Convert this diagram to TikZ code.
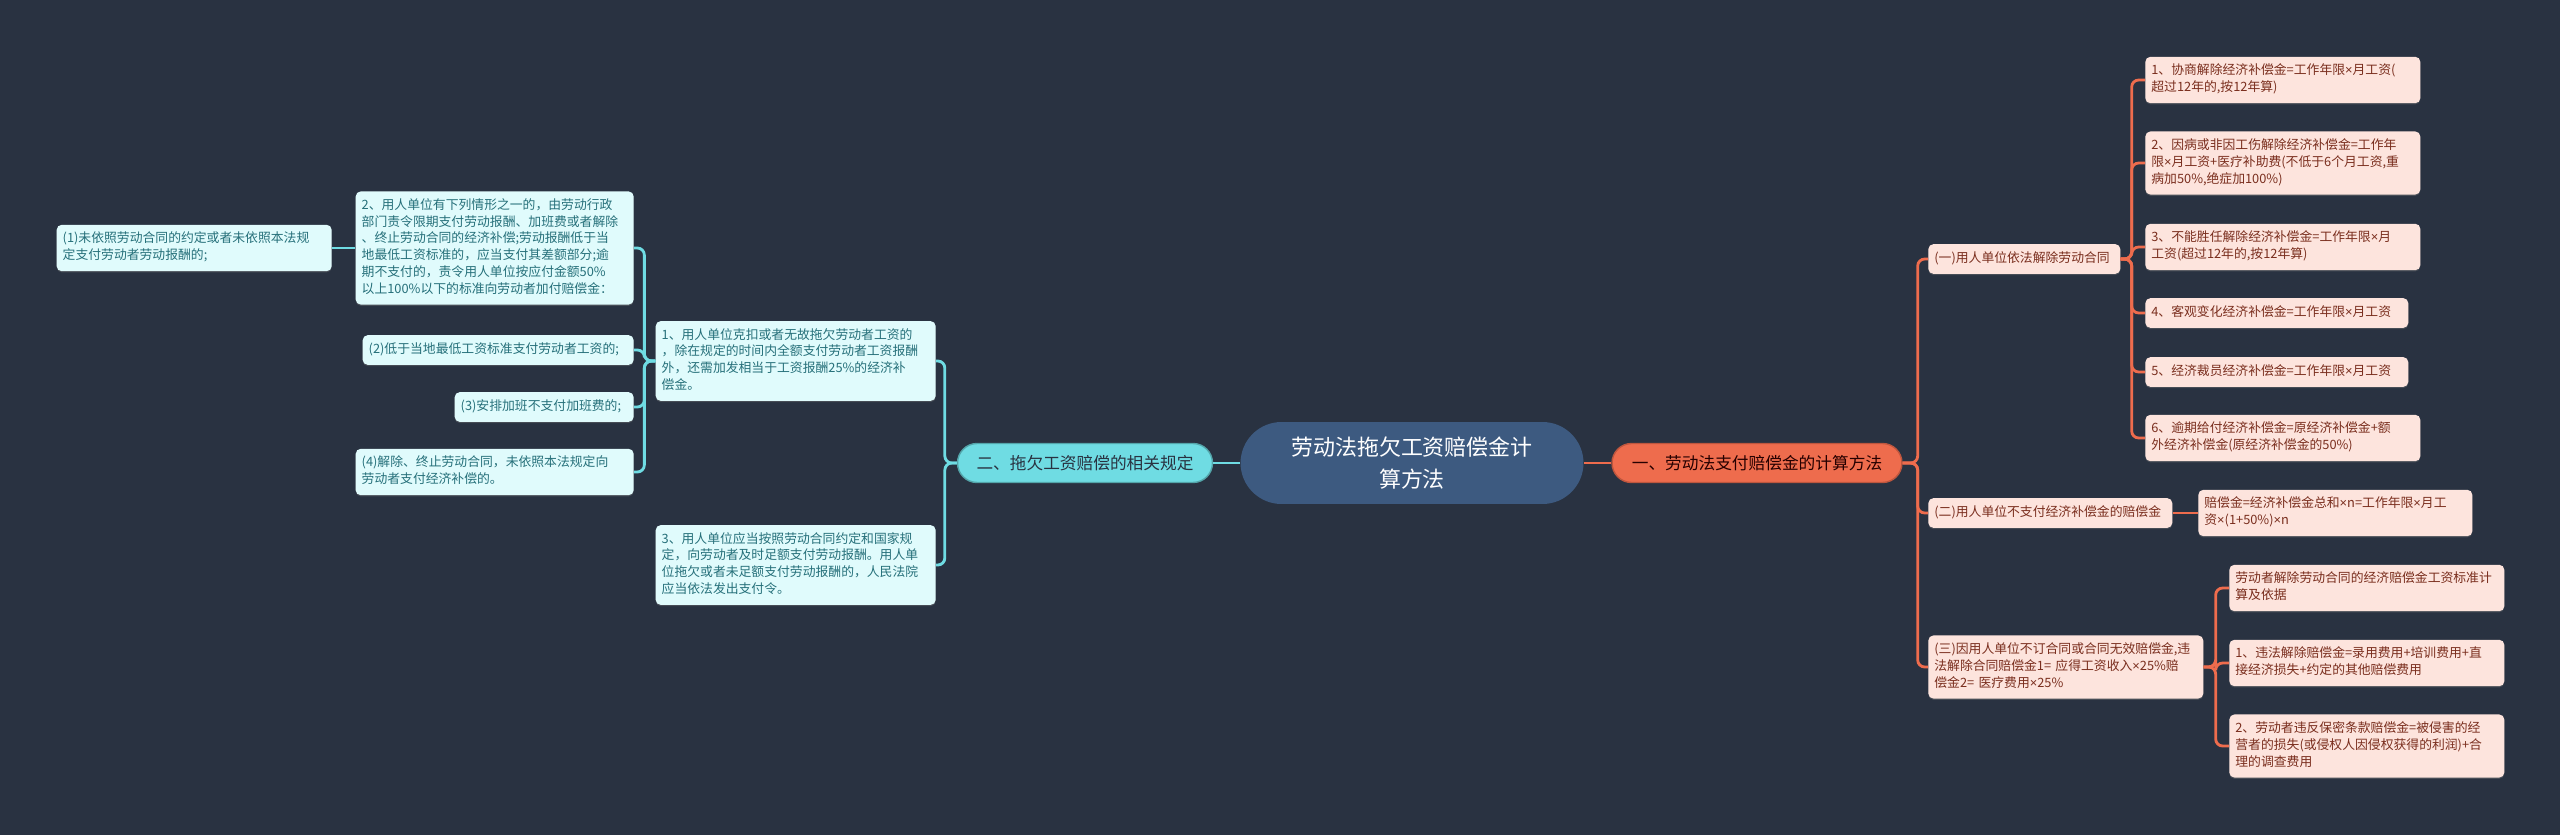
\documentclass[tikz,border=0pt]{standalone}
\usepackage{fontspec}
\setmainfont{Noto Sans CJK SC}
\newfontfamily\timesfont{Liberation Sans}
\newcommand\mul{{\timesfont ×}}
\usetikzlibrary{shadows}

\begin{document}
\begin{tikzpicture}[x=0.02cm, y=-0.02cm,
    rootbox/.style={fill=rootColour, text=white, rounded corners=0.82cm,
        minimum width=6.86cm, minimum height=1.64cm, align=center,
        font=\fontsize{12.5}{18.7}\selectfont},
    mainbox/.style={rounded corners=0.39cm, minimum height=0.78cm,
        line width=0.8pt, font=\fontsize{9.5}{11}\selectfont},
    leafbox/.style={rounded corners=0.1cm, inner xsep=0.12cm, inner ysep=0.13cm,
        align=left, font=\fontsize{7.3}{9.5}\selectfont,
        execute at begin node=\strut, execute at end node=\strut,
        drop shadow={opacity=0.35, shadow xshift=0pt, shadow yshift=-0.7pt}},
    rleaf/.style={leafbox, fill=redLeaf, text=redText, anchor=west},
    lleaf/.style={leafbox, fill=cyanLeaf, text=cyanText, anchor=east},
    redline/.style={draw=redLine, line width=1.6pt, rounded corners=0.14cm},
    cyanline/.style={draw=cyanLine, line width=1.6pt, rounded corners=0.14cm}]

    \definecolor{bgColour}{HTML}{293241}
    \definecolor{rootColour}{HTML}{3D5A80}
    \definecolor{redLine}{HTML}{EE6C4D}
    \definecolor{redLeaf}{HTML}{FDE4DD}
    \definecolor{redText}{HTML}{7A2E1E}
    \definecolor{cyanLine}{HTML}{6FDCE3}
    \definecolor{cyanLeaf}{HTML}{E0FBFC}
    \definecolor{cyanText}{HTML}{26707A}

    % Background
    \fill[bgColour] (0,0) rectangle (2560,835);
    \useasboundingbox (0,0) rectangle (2560,835);

    % Root and main branches
    \node[rootbox] (root) at (1412,463) {劳动法拖欠工资赔偿金计\\算方法};
    \node[mainbox, fill=redLine, draw=redLine!80!black, text=black!85!red,
        minimum width=5.8cm] (one) at (1757,463) {一、劳动法支付赔偿金的计算方法};
    \node[mainbox, fill=cyanLine, draw=cyanLine!75!black, text=bgColour,
        minimum width=5.1cm] (two) at (1085,463) {二、拖欠工资赔偿的相关规定};

    % Right side: one
    \node[rleaf, text width=3.60cm] (r1) at (1928,259) {(一)用人单位依法解除劳动合同};
    \node[rleaf, text width=5.26cm] (r11) at (2145,80) {1、协商解除经济补偿金=工作年限\mul 月工资(\\超过12年的,按12年算)};
    \node[rleaf, text width=5.26cm] (r12) at (2145,163) {2、因病或非因工伤解除经济补偿金=工作年\\限\mul 月工资+医疗补助费(不低于6个月工资,重\\病加50\%,绝症加100\%)};
    \node[rleaf, text width=5.26cm] (r13) at (2145,247) {3、不能胜任解除经济补偿金=工作年限\mul 月\\工资(超过12年的,按12年算)};
    \node[rleaf, text width=5.02cm] (r14) at (2145,313) {4、客观变化经济补偿金=工作年限\mul 月工资};
    \node[rleaf, text width=5.02cm] (r15) at (2145,372) {5、经济裁员经济补偿金=工作年限\mul 月工资};
    \node[rleaf, text width=5.26cm] (r16) at (2145,438) {6、逾期给付经济补偿金=原经济补偿金+额\\外经济补偿金(原经济补偿金的50\%)};

    \node[rleaf, text width=4.64cm] (r2) at (1928,513) {(二)用人单位不支付经济补偿金的赔偿金};
    \node[rleaf, text width=5.24cm] (r21) at (2198,513) {赔偿金=经济补偿金总和\mul n=工作年限\mul 月工\\资\mul(1+50\%)\mul n};

    \node[rleaf, text width=5.26cm] (r3) at (1928,667) {(三)因用人单位不订合同或合同无效赔偿金,违\\法解除合同赔偿金1= 应得工资收入\mul 25\%赔\\偿金2= 医疗费用\mul 25\%};
    \node[rleaf, text width=5.26cm] (r31) at (2229,588) {劳动者解除劳动合同的经济赔偿金工资标准计\\算及依据};
    \node[rleaf, text width=5.26cm] (r32) at (2229,663) {1、违法解除赔偿金=录用费用+培训费用+直\\接经济损失+约定的其他赔偿费用};
    \node[rleaf, text width=5.26cm] (r33) at (2229,746) {2、劳动者违反保密条款赔偿金=被侵害的经\\营者的损失(或侵权人因侵权获得的利润)+合\\理的调查费用};

    % Left side: two
    \node[lleaf, text width=5.36cm] (l1) at (936,361) {1、用人单位克扣或者无故拖欠劳动者工资的\\，除在规定的时间内全额支付劳动者工资报酬\\外，还需加发相当于工资报酬25\%的经济补\\偿金。};
    \node[lleaf, text width=5.36cm] (l2) at (936,565) {3、用人单位应当按照劳动合同约定和国家规\\定，向劳动者及时足额支付劳动报酬。用人单\\位拖欠或者未足额支付劳动报酬的，人民法院\\应当依法发出支付令。};

    \node[lleaf, text width=5.32cm] (l11) at (634,248) {2、用人单位有下列情形之一的，由劳动行政\\部门责令限期支付劳动报酬、加班费或者解除\\、终止劳动合同的经济补偿;劳动报酬低于当\\地最低工资标准的，应当支付其差额部分;逾\\期不支付的，责令用人单位按应付金额50\%\\以上100\%以下的标准向劳动者加付赔偿金：};
    \node[lleaf, text width=5.26cm] (l111) at (332,248) {(1)未依照劳动合同的约定或者未依照本法规\\定支付劳动者劳动报酬的;};
    \node[lleaf, text width=5.18cm] (l12) at (634,350) {(2)低于当地最低工资标准支付劳动者工资的;};
    \node[lleaf, text width=3.34cm] (l13) at (634,407) {(3)安排加班不支付加班费的;};
    \node[lleaf, text width=5.32cm] (l14) at (634,472) {(4)解除、终止劳动合同，未依照本法规定向\\劳动者支付经济补偿的。};

    % Connectors, right
    \draw[redline] (root.east) -- (one.west);
    \foreach \c in {r1,r2,r3}
        \draw[redline] (one.east) -- ++(15,0) |- (\c.west);
    \foreach \c in {r11,r12,r13,r14,r15,r16}
        \draw[redline] (r1.east) -- ++(11,0) |- (\c.west);
    \draw[redline] (r2.east) -- (r21.west);
    \foreach \c in {r31,r32,r33}
        \draw[redline] (r3.east) -- ++(12,0) |- (\c.west);

    % Connectors, left
    \draw[cyanline] (root.west) -- (two.east);
    \foreach \c in {l1,l2}
        \draw[cyanline] (two.west) -- ++(-12,0) |- (\c.east);
    \foreach \c in {l11,l12,l13,l14}
        \draw[cyanline] (l1.west) -- ++(-11,0) |- (\c.east);
    \draw[cyanline] (l11.west) -- (l111.east);

\end{tikzpicture}
\end{document}
